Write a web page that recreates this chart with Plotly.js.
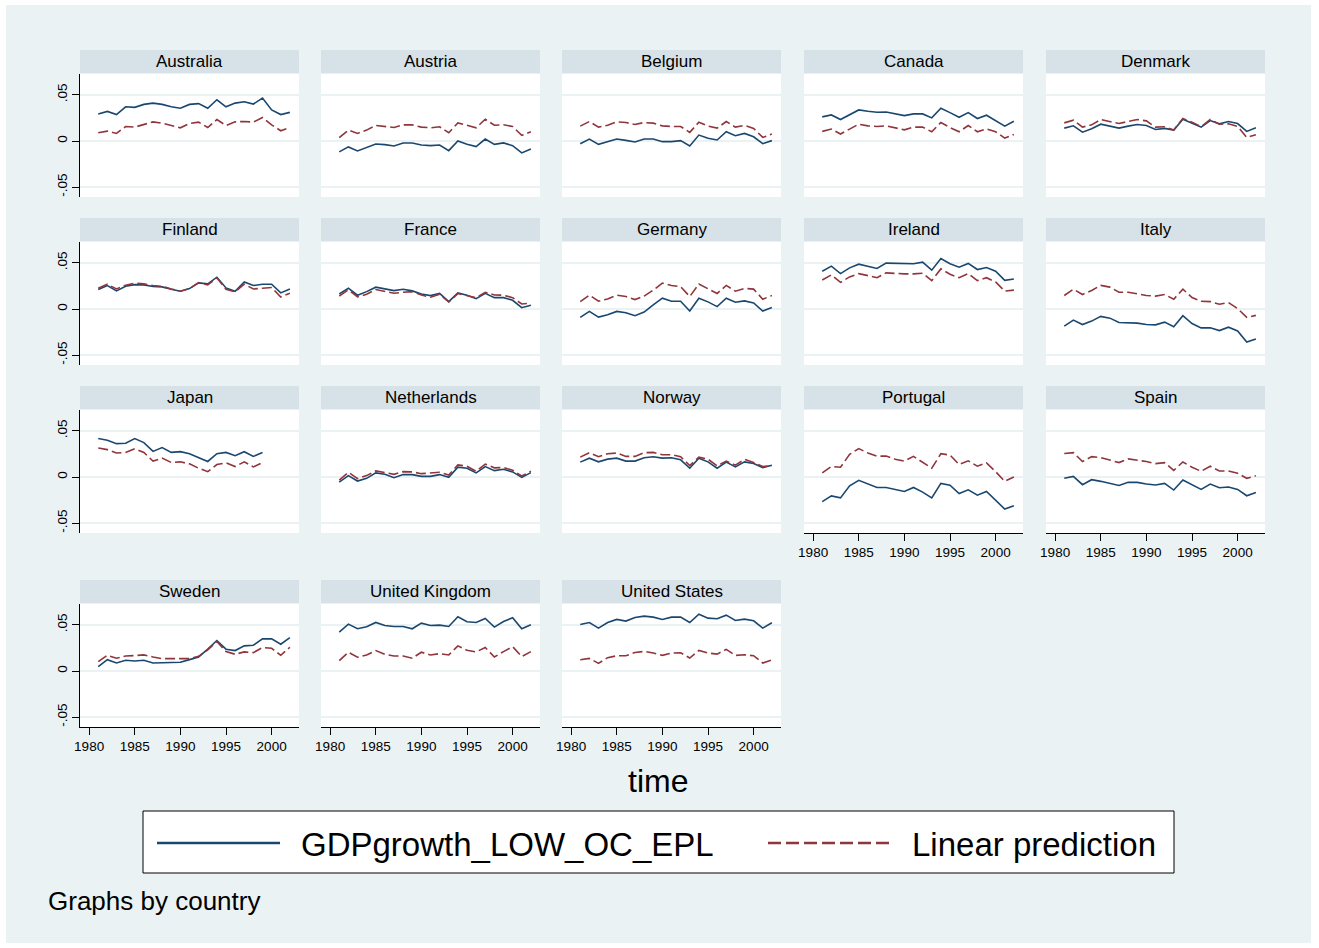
<!DOCTYPE html>
<html>
<head>
<meta charset="utf-8">
<script src="https://cdn.plot.ly/plotly-3.0.1.min.js"></script>
<style>html,body{margin:0;padding:0;background:#fff}#chart{width:1319px;height:948px}</style>
</head>
<body>
<div id="chart"></div>
<script>
const years = [1981,1982,1983,1984,1985,1986,1987,1988,1989,1990,1991,1992,1993,1994,1995,1996,1997,1998,1999,2000,2001,2002];
const xTickVals = [1980,1985,1990,1995,2000];
const yTickVals = [-0.05,0,0.05];
const yTickText = ['-.05','0','.05'];
const countries = ['Australia','Austria','Belgium','Canada','Denmark','Finland','France','Germany','Ireland','Italy','Japan','Netherlands','Norway','Portugal','Spain','Sweden','United Kingdom','United States'];
const seriesNames = ['GDPgrowth_LOW_OC_EPL','Linear prediction'];

const australiaGDP = [.0293,.032,.0286,.037,.0364,.0396,.041,.0396,.037,.0354,.0396,.0404,.0354,.0446,.037,.041,.0425,.04,.0464,.0336,.0286,.031];
const australiaPred = [.0089,.0107,.0082,.0157,.015,.0179,.0207,.0193,.0168,.0143,.0189,.0204,.0146,.0232,.0168,.0207,.0211,.0204,.0254,.0175,.0111,.0146];
const austriaGDP = [-.0118,-.0064,-.0107,-.0068,-.0032,-.0039,-.0054,-.0021,-.0021,-.0043,-.005,-.0043,-.0104,0,-.0036,-.0061,.0021,-.0036,-.0021,-.005,-.0129,-.0086];
const austriaPred = [.0036,.0118,.0082,.0118,.0168,.0157,.0146,.0175,.0175,.015,.0143,.0154,.0089,.0196,.0171,.0143,.0236,.0171,.0175,.0157,.0061,.01];
const belgiumGDP = [-.0029,.0021,-.0036,-.0007,.0021,.0007,-.0011,.0021,.0021,-.0007,-.0007,.0004,-.0054,.0064,.0029,.0011,.01,.0057,.0082,.0046,-.0029,.0004];
const belgiumPred = [.0161,.0211,.015,.0171,.0207,.02,.0179,.02,.0193,.0164,.0157,.0157,.0093,.0204,.0161,.0139,.0211,.015,.0168,.0136,.0039,.0075];
const canadaGDP = [.0261,.0282,.0232,.0282,.0336,.0321,.0311,.0314,.0296,.0275,.0293,.0293,.025,.0354,.0307,.0257,.0307,.0243,.0279,.0218,.0161,.0214];
const canadaPred = [.0104,.0129,.0075,.0125,.0182,.0164,.0157,.0164,.0139,.0121,.015,.015,.01,.02,.0146,.01,.0168,.01,.0132,.01,.0032,.0071];
const denmarkGDP = [.0139,.0164,.0096,.0132,.0182,.0157,.0139,.0161,.0179,.0168,.0125,.0136,.0118,.0236,.0196,.015,.0221,.0186,.0211,.0189,.0104,.0143];
const denmarkPred = [.0196,.0225,.015,.0175,.0232,.0207,.0189,.0211,.0232,.0218,.015,.0154,.0118,.0243,.0204,.0154,.0232,.0182,.0186,.0157,.0039,.0068];
const finlandGDP = [.021,.0254,.0196,.0246,.0264,.0261,.0243,.0239,.0214,.0192,.0221,.0283,.0272,.0344,.0228,.0192,.0293,.0254,.0268,.0268,.0174,.0217];
const finlandPred = [.0225,.0268,.0217,.0257,.0279,.0272,.0254,.0246,.0217,.0192,.0221,.0286,.0261,.0337,.0214,.0185,.0268,.0217,.0225,.0232,.013,.017];
const franceGDP = [.0163,.0225,.0149,.0188,.0236,.0214,.0199,.0214,.0196,.0163,.0145,.017,.008,.0174,.0149,.0112,.017,.0123,.0123,.0094,.0014,.004];
const francePred = [.0141,.0207,.013,.0159,.021,.0188,.017,.0181,.0188,.0152,.0127,.0159,.0076,.0167,.0145,.0123,.0181,.0152,.0149,.0123,.0054,.0065];
const germanyGDP = [-.0091,-.0026,-.0088,-.0062,-.0026,-.004,-.0073,-.0033,.0044,.0117,.0084,.0084,-.0022,.0117,.0077,.0026,.0117,.0073,.0088,.0066,-.0022,.0015];
const germanyPred = [.008,.015,.0084,.0109,.015,.0135,.0102,.0139,.0204,.0281,.0255,.0241,.0135,.027,.0219,.0168,.0255,.0193,.0223,.0215,.0106,.0146];
const irelandGDP = [.0409,.0464,.0383,.0445,.0485,.0464,.0438,.0496,.0496,.0496,.0489,.0507,.042,.0547,.0489,.0453,.0493,.0427,.0449,.0409,.031,.0325];
const irelandPred = [.0314,.0369,.0288,.0347,.0383,.0361,.0339,.0391,.0383,.038,.038,.0387,.0307,.0434,.0376,.0339,.0383,.0307,.0339,.0292,.0193,.0204];
const italyGDP = [-.0186,-.012,-.0168,-.0131,-.008,-.0099,-.0146,-.0146,-.0153,-.0168,-.0172,-.0142,-.0193,-.0073,-.0157,-.0204,-.0204,-.0234,-.0197,-.0237,-.0358,-.0325];
const italyPred = [.0146,.0215,.0157,.0201,.0255,.0237,.0182,.0182,.0164,.0146,.0139,.0157,.0106,.0215,.0124,.0084,.008,.0051,.0069,.0005,-.0091,-.0069];
const japanGDP = [.0416,.0398,.0361,.0365,.0416,.0372,.0277,.0318,.0266,.0274,.0252,.0208,.0168,.0252,.0266,.023,.0274,.0223,.0266];
const japanPred = [.0314,.0296,.0259,.0266,.0307,.0266,.0172,.0204,.0157,.0164,.0142,.0095,.0058,.0135,.0153,.0113,.0164,.0109,.0157];
const netherlandsGDP = [-.0055,.0015,-.0044,-.0015,.0044,.0029,-.0007,.0026,.0026,.0007,.0007,.0026,-.0004,.0106,.0095,.0044,.0113,.0069,.0084,.0055,-.0004,.0047];
const netherlandsPred = [-.0033,.0051,-.0018,.0015,.0066,.0051,.0029,.0058,.0055,.0036,.0044,.0051,.0022,.0131,.0117,.0062,.0139,.0099,.0102,.0073,.0011,.0062];
const norwayGDP = [.0161,.0204,.0164,.0193,.0204,.0172,.0172,.0208,.0219,.0204,.0208,.0186,.0095,.0204,.0164,.0095,.0161,.0109,.0164,.0146,.0102,.0128];
const norwayPred = [.0215,.0263,.0219,.0252,.0259,.0223,.0223,.0263,.0266,.0241,.0241,.0219,.0124,.0215,.0193,.012,.0172,.0128,.019,.0157,.0113,.0124];
const portugalGDP = [-.0266,-.0204,-.0226,-.0095,-.0036,-.0077,-.0113,-.0113,-.0135,-.0157,-.0113,-.0164,-.0226,-.0069,-.0088,-.0179,-.0139,-.0197,-.0157,-.0248,-.0347,-.031];
const portugalPred = [.0044,.0113,.0106,.0245,.0307,.0259,.0226,.0226,.0193,.0172,.0223,.0161,.0095,.0252,.0237,.0135,.0175,.0117,.0153,.0058,-.0047,0];
const spainGDP = [-.0014,.0007,-.0083,-.0029,-.0047,-.0072,-.0091,-.0058,-.0058,-.0076,-.0087,-.0069,-.0141,-.0033,-.0083,-.0134,-.0076,-.0116,-.0109,-.0134,-.0203,-.0167];
const spainPred = [.0254,.0264,.0167,.0221,.021,.0181,.0156,.0196,.0185,.0167,.0145,.0156,.0072,.0163,.0105,.0062,.0116,.0065,.0065,.004,-.0014,.0014];
const swedenGDP = [.0047,.0123,.0087,.0116,.0109,.0116,.0087,.0087,.0094,.0094,.0123,.0152,.0236,.033,.0236,.0221,.0272,.0279,.0348,.0348,.029,.0362];
const swedenPred = [.0101,.017,.0138,.0163,.0167,.0174,.0152,.0134,.0134,.0134,.0134,.0159,.0228,.0319,.021,.0181,.0207,.0199,.0254,.0246,.017,.0257];
const ukGDP = [.042,.0507,.0457,.0478,.0525,.0493,.0482,.0482,.0457,.0518,.0493,.0496,.0482,.0587,.0533,.0525,.0569,.0475,.0536,.0576,.0457,.05];
const ukPred = [.0112,.0203,.0149,.0174,.0221,.0181,.0163,.0163,.0138,.0203,.0174,.0188,.0174,.0272,.0225,.0207,.0254,.0152,.021,.0264,.0156,.021];
const usGDP = [.0504,.0525,.0464,.0525,.0558,.054,.0579,.0594,.0583,.0558,.0583,.0583,.0525,.0615,.0572,.0565,.0604,.0547,.0561,.0543,.0464,.0522];
const usPred = [.0122,.0137,.0083,.0144,.0165,.0165,.0201,.0212,.0194,.0169,.0194,.0198,.014,.0223,.0194,.0183,.0234,.0169,.0176,.0165,.0086,.0119];

const gdpSeries = [australiaGDP,austriaGDP,belgiumGDP,canadaGDP,denmarkGDP,finlandGDP,franceGDP,germanyGDP,irelandGDP,italyGDP,japanGDP,netherlandsGDP,norwayGDP,portugalGDP,spainGDP,swedenGDP,ukGDP,usGDP];
const predSeries = [australiaPred,austriaPred,belgiumPred,canadaPred,denmarkPred,finlandPred,francePred,germanyPred,irelandPred,italyPred,japanPred,netherlandsPred,norwayPred,portugalPred,spainPred,swedenPred,ukPred,usPred];

// ---- layout geometry ----
const W = 1319, H = 948;
const colLeft = [80, 321, 562, 804, 1046];
const panelW = 219;
const plotTop = [74, 242, 410, 604];
const plotH = 123;
const headH = 23;
const px = x => x / W;
const py = y => 1 - y / H;
const FONT = 'Liberation Sans, Arial, Helvetica, sans-serif';
const NAVY = '#1a476f', MAROON = '#90353b';
const BG = '#eaf2f3', STRIP = '#d6e2e7';
const xLabelPanels = [13, 14, 15, 16, 17];
const TICKSIZE = 13.5;

const traces = [];
const shapes = [];
const annotations = [];
const layout = {
  width: W, height: H,
  margin: {l: 0, r: 0, t: 0, b: 0},
  paper_bgcolor: BG,
  plot_bgcolor: '#ffffff',
  showlegend: false,
  font: {family: FONT, color: '#000'},
};

// white outer border
[[0,0,W,5],[0,943,W,H],[0,0,6,H],[1311,0,W,H]].forEach(r => {
  shapes.push({type:'rect', xref:'paper', yref:'paper', x0:px(r[0]), x1:px(r[2]), y0:py(r[3]), y1:py(r[1]), fillcolor:'#ffffff', line:{width:0}, layer:'below'});
});

countries.forEach((name, k) => {
  const row = Math.floor(k / 5), col = k % 5;
  const sfx = k === 0 ? '' : String(k + 1);
  const L = colLeft[col], T = plotTop[row];
  const showX = xLabelPanels.includes(k);
  const showY = col === 0;
  layout['xaxis' + sfx] = {
    domain: [px(L), px(L + panelW)], range: [1979, 2003], anchor: 'y' + sfx,
    showgrid: false, zeroline: false,
    showline: showX, linecolor: '#000', linewidth: 1,
    ticks: showX ? 'outside' : '', ticklen: 7, tickcolor: '#000', tickwidth: 1,
    tickmode: 'array', tickvals: xTickVals, showticklabels: showX,
    tickfont: {size: TICKSIZE, family: FONT, color: '#000'}, fixedrange: true
  };
  layout['yaxis' + sfx] = {
    domain: [py(T + plotH), py(T)], range: [-0.0606, 0.0725], anchor: 'x' + sfx,
    showgrid: true, gridcolor: BG, gridwidth: 1.5, zeroline: false,
    showline: showY, linecolor: '#000', linewidth: 1,
    ticks: showY ? 'outside' : '', ticklen: 7, tickcolor: '#000', tickwidth: 1,
    tickmode: 'array', tickvals: yTickVals, ticktext: yTickText, showticklabels: showY,
    tickangle: -90, tickfont: {size: TICKSIZE, family: FONT, color: '#000'}, fixedrange: true
  };
  // header strip
  shapes.push({type:'rect', xref:'paper', yref:'paper', x0:px(L), x1:px(L+panelW), y0:py(T-1), y1:py(T-1-headH), fillcolor:STRIP, line:{width:0}, layer:'below'});
  annotations.push({xref:'paper', yref:'paper', x:px(L+panelW/2), y:py(T-1-headH/2), text:name, showarrow:false, xanchor:'center', yanchor:'middle', font:{size:17, family:FONT, color:'#000'}});

  const g = gdpSeries[k], p = predSeries[k];
  traces.push({x: years.slice(0, g.length), y: g, type:'scatter', mode:'lines', name: seriesNames[0], xaxis:'x'+sfx, yaxis:'y'+sfx, line:{color:NAVY, width:1.6}, hoverinfo:'skip'});
  traces.push({x: years.slice(0, p.length), y: p, type:'scatter', mode:'lines', name: seriesNames[1], xaxis:'x'+sfx, yaxis:'y'+sfx, line:{color:MAROON, width:1.6, dash:'10px,4px'}, hoverinfo:'skip'});
});

// x title
annotations.push({xref:'paper', yref:'paper', x:px(658), y:py(781), text:'time', showarrow:false, xanchor:'center', yanchor:'middle', font:{size:32, family:FONT, color:'#000'}});

// legend box
shapes.push({type:'rect', xref:'paper', yref:'paper', x0:px(143), x1:px(1174), y0:py(873), y1:py(811), fillcolor:'#ffffff', line:{color:'#000', width:1}, layer:'below'});
shapes.push({type:'line', xref:'paper', yref:'paper', x0:px(157), x1:px(280), y0:py(843), y1:py(843), line:{color:NAVY, width:2.5}});
shapes.push({type:'line', xref:'paper', yref:'paper', x0:px(768), x1:px(892), y0:py(843), y1:py(843), line:{color:MAROON, width:2.5, dash:'13px,5px'}});
annotations.push({xref:'paper', yref:'paper', x:px(299), y:py(844), text:seriesNames[0], showarrow:false, xanchor:'left', yanchor:'middle', font:{size:33, family:FONT, color:'#000'}});
annotations.push({xref:'paper', yref:'paper', x:px(910), y:py(844), text:seriesNames[1], showarrow:false, xanchor:'left', yanchor:'middle', font:{size:33, family:FONT, color:'#000'}});

// note
annotations.push({xref:'paper', yref:'paper', x:px(46), y:py(901), text:'Graphs by country', showarrow:false, xanchor:'left', yanchor:'middle', font:{size:26, family:FONT, color:'#000'}});

layout.shapes = shapes;
layout.annotations = annotations;

Plotly.newPlot('chart', traces, layout, {displayModeBar:false, staticPlot:true});
</script>
</body>
</html>
